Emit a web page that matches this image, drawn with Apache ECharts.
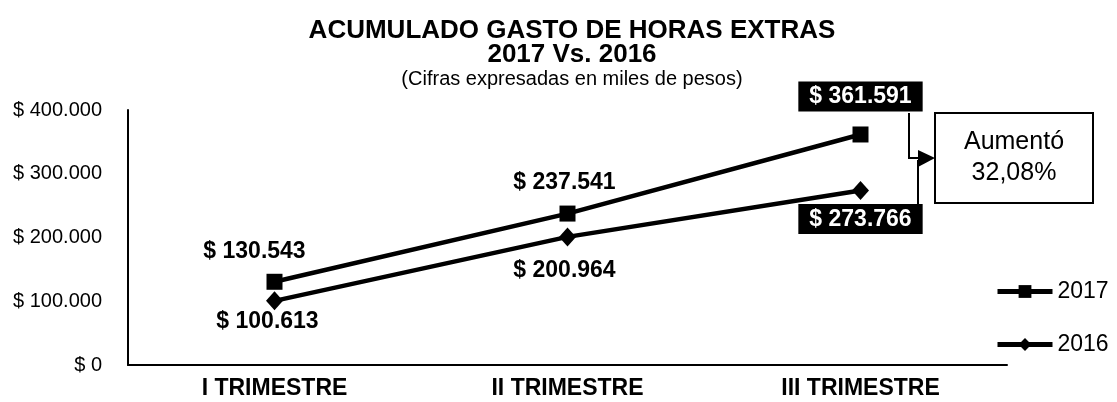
<!DOCTYPE html>
<html>
<head>
<meta charset="utf-8">
<script src="https://cdn.jsdelivr.net/npm/echarts@6/dist/echarts.min.js"></script>
<style>
  html, body { margin: 0; padding: 0; background: #fff; }
  #chart { width: 1117px; height: 402px; }
</style>
</head>
<body>
<div id="chart"></div>
<script>
const trimestres = ['I TRIMESTRE', 'II TRIMESTRE', 'III TRIMESTRE']
const gasto2017 = [130543, 237541, 361591]
const gasto2016 = [100613, 200964, 273766]
const yTicks = [0, 100000, 200000, 300000, 400000]

// ajuste de etiquetas por punto: [offsetX, distancia]
const ajuste2017 = [[-20, 11], [-3, 11], [0, 15]]
const ajuste2016 = [[-7, 0], [-3, 13], [0, 4]]

const font = 'Liberation Sans, Arial, sans-serif'

function pesos(v) {
  return '$ ' + String(v).replace(/\B(?=(\d{3})+(?!\d))/g, '.')
}

// último trimestre va en caja negra
function labelItems(values, pos, ajuste) {
  return values.map((v, i) => {
    const last = i === values.length - 1
    return {
      value: v,
      label: {
        show: true,
        position: pos,
        distance: ajuste[i][1],
        offset: [ajuste[i][0], 0],
        formatter: p => pesos(p.value),
        fontFamily: font,
        fontWeight: 'bold',
        fontSize: 23,
        lineHeight: 23,
        color: last ? '#fff' : '#000',
        backgroundColor: last ? '#000' : 'transparent',
        padding: last ? [4, 11, 3, 11] : 0
      }
    }
  })
}

const chart = echarts.init(document.getElementById('chart'))

chart.setOption({
  animation: false,
  title: {
    text: 'ACUMULADO GASTO DE HORAS EXTRAS\n2017 Vs. 2016',
    subtext: '(Cifras expresadas en miles de pesos)',
    left: 567,
    textAlign: 'center',
    top: 14,
    itemGap: 0,
    textStyle: { fontFamily: font, fontWeight: 'bold', fontSize: 26, lineHeight: 24, color: '#000' },
    subtextStyle: { fontFamily: font, fontSize: 20, color: '#000' }
  },
  legend: {
    orient: 'vertical',
    left: 995,
    top: 280,
    padding: 0,
    itemWidth: 55,
    itemHeight: 16,
    itemGap: 30,
    lineStyle: { width: 5 },
    textStyle: { fontFamily: font, fontSize: 23, color: '#000' },
    data: ['2017', '2016']
  },
  grid: { left: 128, right: 110, top: 110, bottom: 37 },
  xAxis: {
    type: 'category',
    data: trimestres,
    axisLine: { lineStyle: { color: '#000', width: 2 } },
    axisTick: { show: false },
    axisLabel: { fontFamily: font, fontWeight: 'bold', fontSize: 23, color: '#000', margin: 12 }
  },
  yAxis: {
    type: 'value',
    min: yTicks[0],
    max: yTicks[yTicks.length - 1],
    interval: yTicks[1] - yTicks[0],
    axisLine: { show: true, lineStyle: { color: '#000', width: 2 } },
    axisTick: { show: false },
    splitLine: { show: false },
    axisLabel: {
      fontFamily: font, fontSize: 20, color: '#000', margin: 26,
      formatter: v => v === 0 ? '$ 0' : pesos(v)
    }
  },
  series: [
    {
      name: '2017',
      type: 'line',
      data: labelItems(gasto2017, 'top', ajuste2017),
      symbol: 'rect',
      symbolSize: 16,
      lineStyle: { color: '#000', width: 4.5 },
      itemStyle: { color: '#000' }
    },
    {
      name: '2016',
      type: 'line',
      data: labelItems(gasto2016, 'bottom', ajuste2016),
      symbol: 'diamond',
      symbolSize: [17, 19],
      lineStyle: { color: '#000', width: 4.5 },
      itemStyle: { color: '#000' }
    }
  ],
  graphic: [
    {
      type: 'rect',
      shape: { x: 935, y: 113, width: 158, height: 90 },
      style: { fill: '#fff', stroke: '#000', lineWidth: 2 }
    },
    {
      type: 'text',
      x: 1014, y: 158,
      style: {
        text: 'Aumentó\n32,08%', fontFamily: font, fontSize: 25, lineHeight: 31,
        fill: '#000', align: 'center', verticalAlign: 'middle'
      }
    },
    {
      type: 'polyline',
      shape: { points: [[909, 113], [909, 158], [920, 158]] },
      style: { stroke: '#000', lineWidth: 2, fill: null }
    },
    {
      type: 'polyline',
      shape: { points: [[905, 205], [918, 205], [918, 160]] },
      style: { stroke: '#000', lineWidth: 2, fill: null }
    },
    {
      type: 'polygon',
      shape: { points: [[918, 150], [935, 158], [918, 167]] },
      style: { fill: '#000' }
    }
  ]
})
</script>
</body>
</html>
